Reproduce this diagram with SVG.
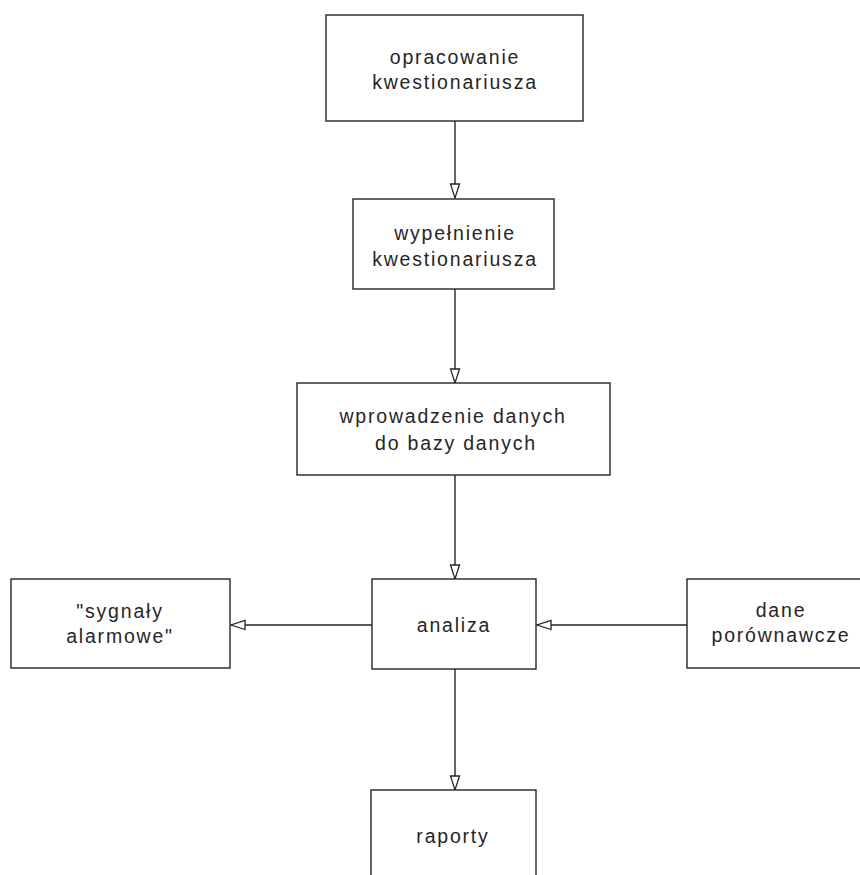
<svg xmlns="http://www.w3.org/2000/svg" width="860" height="875" viewBox="0 0 860 875">
<defs>
<style>
.box{fill:#fff;stroke:#262626;stroke-width:1.4}
.lbl{font-family:"Liberation Sans",Arial,sans-serif;font-size:19.5px;letter-spacing:1.8px;fill:#262626;text-anchor:middle}
.conn{stroke:#262626;stroke-width:1.4;fill:none;marker-end:url(#arr)}
</style>
<marker id="arr" markerUnits="userSpaceOnUse" markerWidth="18" markerHeight="14" refX="15" refY="6" orient="auto" viewBox="0 0 18 12">
<path d="M1,1.5 L15,6 L1,10.5 Z" fill="#fff" stroke="#262626" stroke-width="1.3"/>
</marker>
</defs>
<rect width="860" height="875" fill="#fff"/>
<g id="connectors">
<line class="conn" x1="455" y1="121" x2="455" y2="198"/>
<line class="conn" x1="455" y1="289" x2="455" y2="383"/>
<line class="conn" x1="455" y1="475" x2="455" y2="579"/>
<line class="conn" x1="455" y1="669" x2="455" y2="790"/>
<line class="conn" x1="372" y1="625" x2="231" y2="625"/>
<line class="conn" x1="687" y1="625" x2="537" y2="625"/>
</g>
<g id="n1">
<rect class="box" x="326" y="15" width="257" height="106"/>
<text class="lbl" x="455" y="64">opracowanie</text>
<text class="lbl" x="455" y="89">kwestionariusza</text>
</g>
<g id="n2">
<rect class="box" x="353" y="199" width="201" height="90"/>
<text class="lbl" x="455" y="240">wypełnienie</text>
<text class="lbl" x="455" y="266">kwestionariusza</text>
</g>
<g id="n3">
<rect class="box" x="297" y="383" width="313" height="92"/>
<text class="lbl" x="453" y="423">wprowadzenie danych</text>
<text class="lbl" x="456" y="450">do bazy danych</text>
</g>
<g id="n4">
<rect class="box" x="372" y="579" width="164" height="90"/>
<text class="lbl" x="454" y="632">analiza</text>
</g>
<g id="n5">
<rect class="box" x="11" y="579" width="219" height="89"/>
<text class="lbl" x="120" y="618">"sygnały</text>
<text class="lbl" x="120" y="643">alarmowe"</text>
</g>
<g id="n6">
<rect class="box" x="687" y="579" width="188" height="89"/>
<text class="lbl" x="781" y="617">dane</text>
<text class="lbl" x="781" y="642">porównawcze</text>
</g>
<g id="n7">
<rect class="box" x="371" y="790" width="165" height="100"/>
<text class="lbl" x="453" y="843">raporty</text>
</g>
</svg>
